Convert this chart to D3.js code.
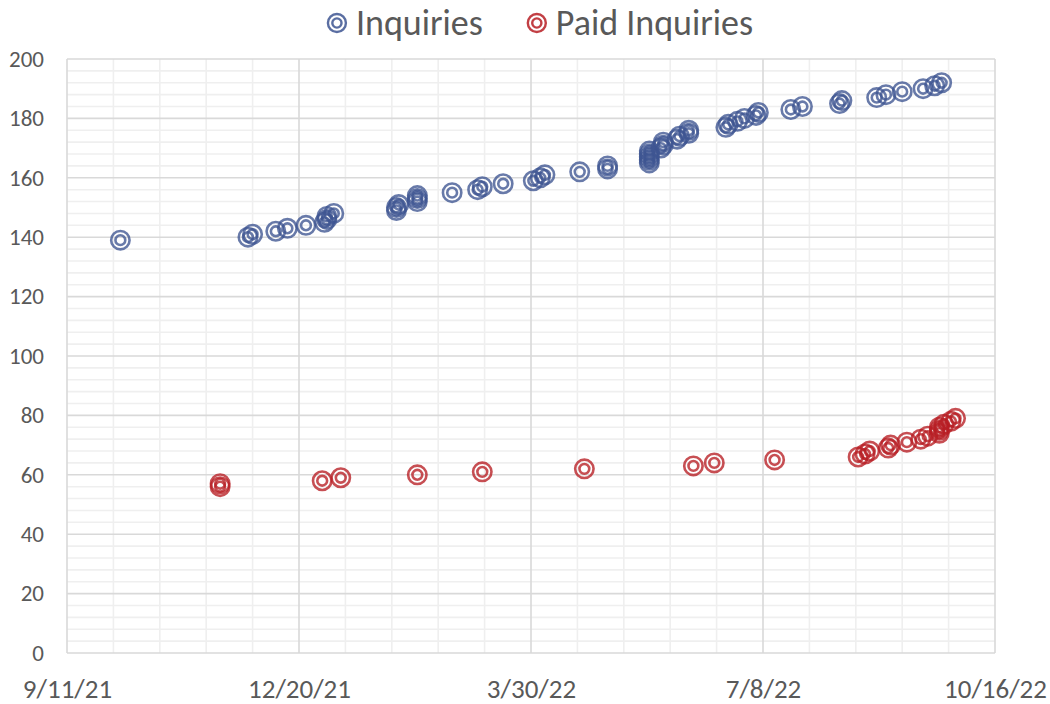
<!DOCTYPE html>
<html>
<head>
<meta charset="utf-8">
<script src="https://cdn.jsdelivr.net/npm/d3@7"></script>
<style>
  body { margin: 0; background: #fff; }
  text { font-family: Carlito, Calibri, Lato, sans-serif; fill: #595959; }
</style>
</head>
<body>
<div id="scatter-chart"></div>
<script>
// Series data
const inquiryDates = [
  "2021-10-04", "2021-11-28", "2021-11-30", "2021-12-10", "2021-12-15", "2021-12-23",
  "2021-12-31", "2022-01-01", "2022-01-01", "2022-01-04",
  "2022-01-31", "2022-01-31", "2022-02-01", "2022-02-09", "2022-02-09", "2022-02-09",
  "2022-02-24", "2022-03-07", "2022-03-09", "2022-03-18",
  "2022-03-31", "2022-04-03", "2022-04-05", "2022-04-20", "2022-05-02", "2022-05-02",
  "2022-05-20", "2022-05-20", "2022-05-20", "2022-05-20", "2022-05-20",
  "2022-05-25", "2022-05-26", "2022-05-26", "2022-06-01", "2022-06-02", "2022-06-06", "2022-06-06",
  "2022-06-22", "2022-06-23", "2022-06-27", "2022-06-30", "2022-07-05", "2022-07-06",
  "2022-07-20", "2022-07-25", "2022-08-10", "2022-08-11",
  "2022-08-26", "2022-08-30", "2022-09-06", "2022-09-15", "2022-09-20", "2022-09-23"
];
const inquiryValues = [
  139, 140, 141, 142, 143, 144,
  145, 146, 147, 148,
  149, 150, 151, 152, 153, 154,
  155, 156, 157, 158,
  159, 160, 161, 162, 163, 164,
  165, 166, 167, 168, 169,
  170, 171, 172, 173, 174, 175, 176,
  177, 178, 179, 180, 181, 182,
  183, 184, 185, 186,
  187, 188, 189, 190, 191, 192
];

const paidDates = [
  "2021-11-16", "2021-11-16", "2021-12-30", "2022-01-07", "2022-02-09", "2022-03-09",
  "2022-04-22", "2022-06-08", "2022-06-17", "2022-07-13",
  "2022-08-18", "2022-08-21", "2022-08-23", "2022-08-31", "2022-09-01",
  "2022-09-08", "2022-09-14", "2022-09-17", "2022-09-22", "2022-09-22", "2022-09-22",
  "2022-09-24", "2022-09-27", "2022-09-29"
];
const paidValues = [
  56, 57, 58, 59, 60, 61,
  62, 63, 64, 65,
  66, 67, 68, 69, 70,
  71, 72, 73, 74, 75, 76,
  77, 78, 79
];

const seriesNames = ["Inquiries", "Paid Inquiries"];
const seriesColors = ["#3e5592", "#b81e24"];

const xTickLabels = ["9/11/21", "12/20/21", "3/30/22", "7/8/22", "10/16/22"];
const yTickLabels = [0, 20, 40, 60, 80, 100, 120, 140, 160, 180, 200];

// Dimensions
const width = 1050;
const height = 704;
const plotLeft = 67;
const plotRight = 995;
const plotTop = 59;
const plotBottom = 653;

const parseDate = d3.utcParse("%Y-%m-%d");
const parseTick = d3.utcParse("%m/%d/%y");
const xTicks = xTickLabels.map(parseTick);

const inquiries = inquiryDates.map((d, i) => [parseDate(d), inquiryValues[i]]);
const paid = paidDates.map((d, i) => [parseDate(d), paidValues[i]]);

const svg = d3.select("#scatter-chart")
  .append("svg")
  .attr("width", width)
  .attr("height", height);

// Scales
const x = d3.scaleUtc()
  .domain([xTicks[0], xTicks[xTicks.length - 1]])
  .range([plotLeft, plotRight]);

const y = d3.scaleLinear()
  .domain([0, 200])
  .range([plotBottom, plotTop]);

// Minor grid: every 20 days from the first tick, and every 4 units
const minorX = d3.range(1, 20).filter(k => k % 5 !== 0)
  .map(k => d3.utcDay.offset(xTicks[0], k * 20));
const minorY = d3.range(0, 201, 4).filter(v => v % 20 !== 0);

const grid = svg.append("g");

grid.selectAll(".minor-x")
  .data(minorX).enter()
  .append("line")
  .attr("x1", d => x(d)).attr("x2", d => x(d))
  .attr("y1", plotTop).attr("y2", plotBottom)
  .attr("stroke", "#efefef")
  .attr("stroke-width", 1.6);

grid.selectAll(".minor-y")
  .data(minorY).enter()
  .append("line")
  .attr("x1", plotLeft).attr("x2", plotRight)
  .attr("y1", d => y(d)).attr("y2", d => y(d))
  .attr("stroke", "#efefef")
  .attr("stroke-width", 1.6);

// Major grid
grid.selectAll(".major-x")
  .data(xTicks).enter()
  .append("line")
  .attr("x1", d => x(d)).attr("x2", d => x(d))
  .attr("y1", plotTop).attr("y2", plotBottom)
  .attr("stroke", "#d9d9d9")
  .attr("stroke-width", 1.6);

grid.selectAll(".major-y")
  .data(yTickLabels).enter()
  .append("line")
  .attr("x1", plotLeft).attr("x2", plotRight)
  .attr("y1", d => y(d)).attr("y2", d => y(d))
  .attr("stroke", "#d9d9d9")
  .attr("stroke-width", 1.6);

// Axes (labels only, lines come from the grid)
const xAxis = svg.append("g")
  .attr("transform", "translate(0," + plotBottom + ")")
  .call(d3.axisBottom(x).tickValues(xTicks).tickFormat((d, i) => xTickLabels[i]).tickSize(0).tickPadding(26));
xAxis.select(".domain").remove();
xAxis.selectAll("text")
  .attr("font-size", 27)
  .attr("font-family", null)
  .attr("fill", null);

const yAxis = svg.append("g")
  .attr("transform", "translate(" + plotLeft + ",0)")
  .call(d3.axisLeft(y).tickValues(yTickLabels).tickSize(0).tickPadding(23));
yAxis.select(".domain").remove();
yAxis.selectAll("text")
  .attr("font-size", 23)
  .attr("font-family", null)
  .attr("fill", null);

// Double ring marker
function drawRings(sel, color, rOuter, rInner, sw) {
  sel.append("circle")
    .attr("r", rOuter)
    .attr("fill", "none")
    .attr("stroke", color)
    .attr("stroke-width", sw);
  sel.append("circle")
    .attr("r", rInner)
    .attr("fill", "none")
    .attr("stroke", color)
    .attr("stroke-width", sw);
}

[inquiries, paid].forEach((series, k) => {
  const pts = svg.append("g")
    .selectAll("g")
    .data(series).enter()
    .append("g")
    .attr("transform", d => "translate(" + x(d[0]) + "," + y(d[1]) + ")")
    .attr("opacity", 0.78);
  drawRings(pts, seriesColors[k], 9.2, 4.9, 2.6);
});

// Legend
const legend = svg.append("g");
let lx = 0;
seriesNames.forEach((name, k) => {
  const item = legend.append("g").attr("transform", "translate(" + lx + ",0)");
  const mk = item.append("g").attr("transform", "translate(10,23)").attr("opacity", 0.85);
  drawRings(mk, seriesColors[k], 9, 4.6, 2.4);
  const t = item.append("text")
    .attr("x", 29)
    .attr("y", 35)
    .attr("font-size", 36)
    .text(name);
  lx += 29 + t.node().getComputedTextLength() + 44;
});
const legendWidth = lx - 44;
legend.attr("transform", "translate(" + (540 - legendWidth / 2) + ",0)");
</script>
</body>
</html>
